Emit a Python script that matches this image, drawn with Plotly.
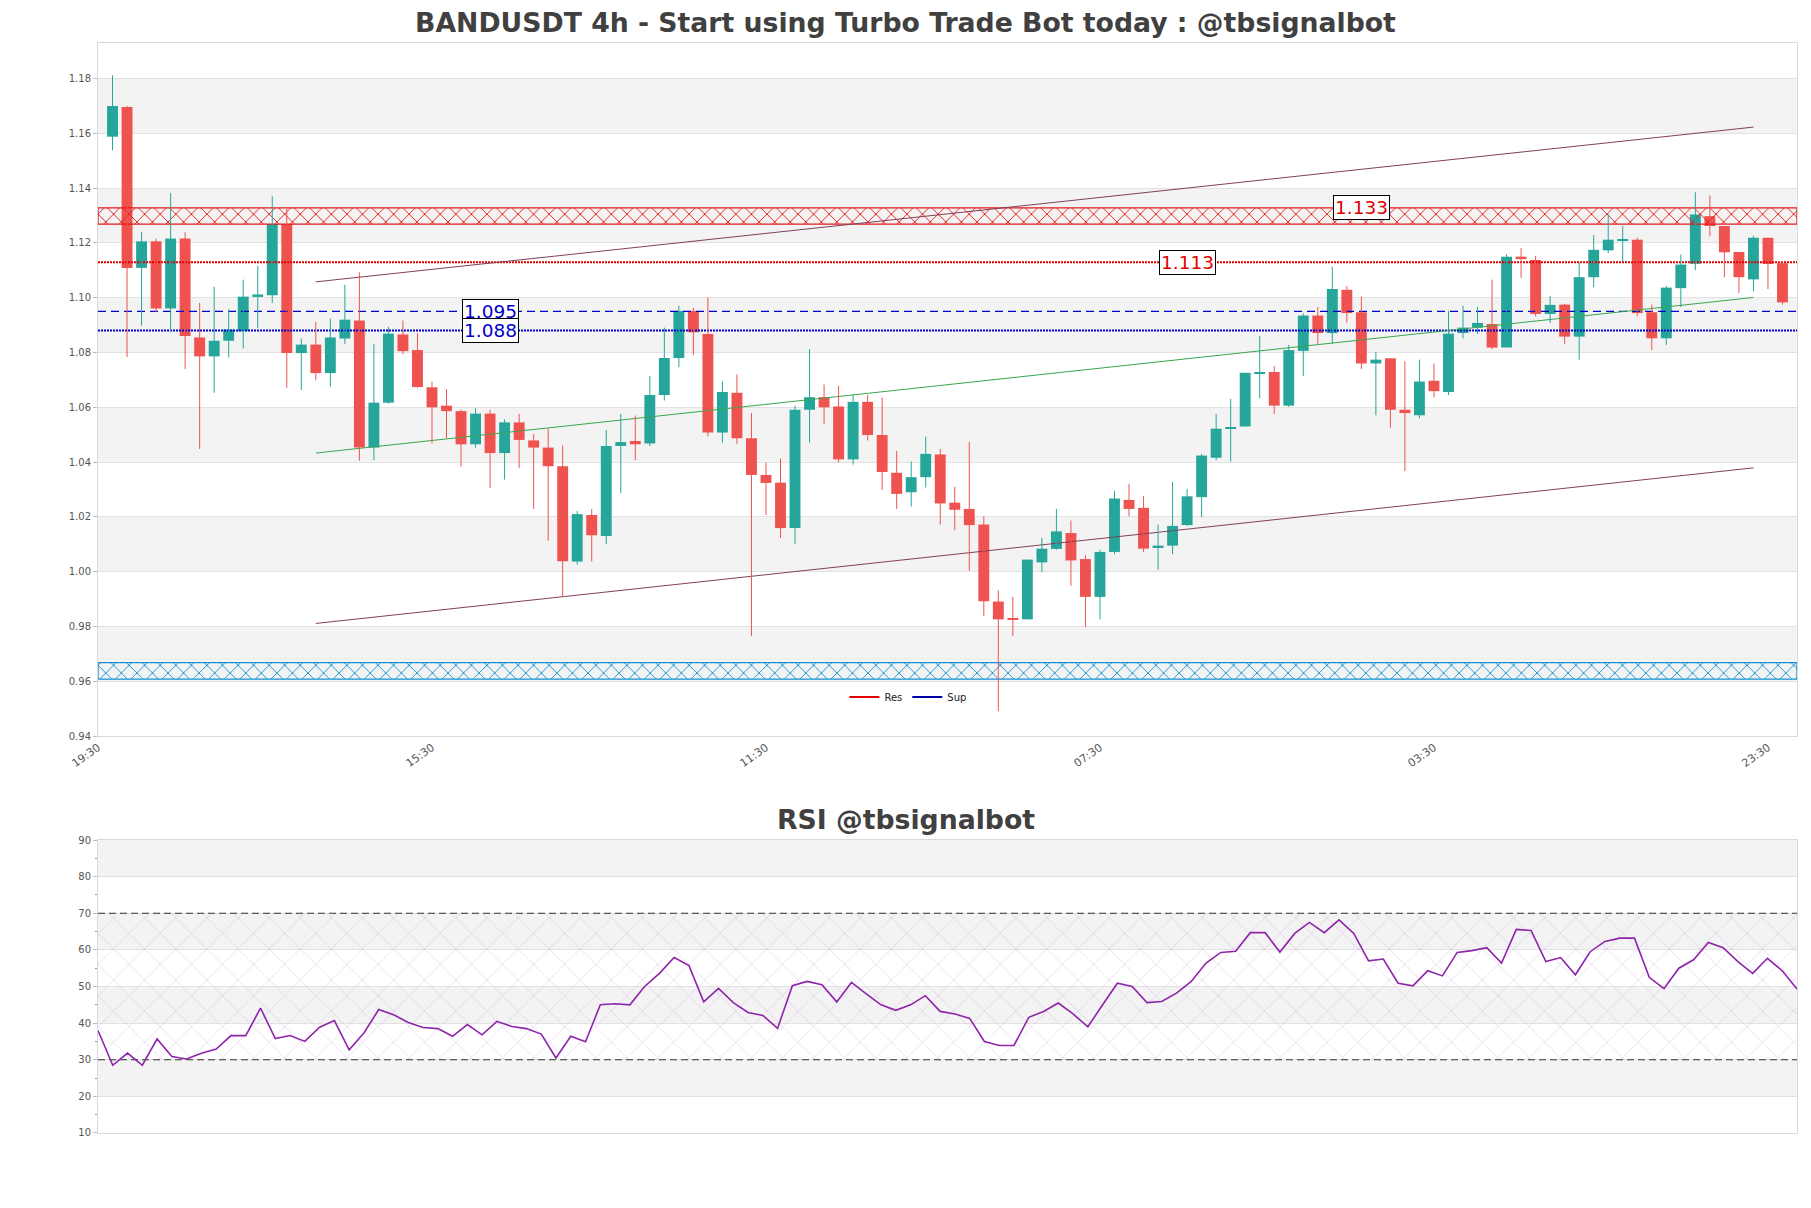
import plotly.graph_objects as go

# 4h candles, oldest first
opens = [
    1.1588, 1.1696, 1.1109, 1.1206, 1.0961, 1.1216, 1.0855, 1.0786, 1.0843, 1.0878,
    1.1003, 1.1009, 1.1269, 1.0798, 1.0829, 1.0725, 1.0851, 1.0917, 1.0453, 1.0617,
    1.0866, 1.0809, 1.0673, 1.0606, 1.0586, 1.0465, 1.0577, 1.0433, 1.0545, 1.0479,
    1.0453, 1.0385, 1.0037, 1.0207, 1.0130, 1.0459, 1.0477, 1.0468, 1.0645, 1.0780,
    1.0952, 1.0868, 1.0508, 1.0653, 1.0487, 1.0353, 1.0325, 1.0159, 1.0591, 1.0637,
    1.0603, 1.0410, 1.0620, 1.0499, 1.0361, 1.0290, 1.0345, 1.0428, 1.0252, 1.0229,
    1.0172, 0.9891, 0.9831, 0.9826, 1.0034, 1.0083, 1.0141, 1.0046, 0.9908, 1.0072,
    1.0262, 1.0233, 1.0090, 1.0095, 1.0170, 1.0272, 1.0416, 1.0522, 1.0530, 1.0723,
    1.0729, 1.0606, 1.0806, 1.0935, 1.0871, 1.1029, 1.0947, 1.0760, 1.0779, 1.0591,
    1.0571, 1.0697, 1.0656, 1.0871, 1.0891, 1.0904, 1.0818, 1.1150, 1.1138, 1.0941,
    1.0975, 1.0858, 1.1075, 1.1173, 1.1209, 1.1212, 1.0947, 1.0852, 1.1035, 1.1124,
    1.1298, 1.1262, 1.1167, 1.1067, 1.1219, 1.1126,
]
highs = [
    1.1812, 1.1700, 1.1239, 1.1216, 1.1382, 1.1239, 1.0981, 1.1040, 1.0958, 1.1066,
    1.1116, 1.1370, 1.1324, 1.0851, 1.0912, 1.0924, 1.1047, 1.1093, 1.0832, 1.0894,
    1.0917, 1.0871, 1.0694, 1.0666, 1.0591, 1.0597, 1.0591, 1.0556, 1.0576, 1.0502,
    1.0522, 1.0461, 1.0222, 1.0229, 1.0517, 1.0576, 1.0570, 1.0714, 1.0891, 1.0971,
    1.0963, 1.1001, 1.0694, 1.0720, 1.0579, 1.0398, 1.0413, 1.0606, 1.0812, 1.0683,
    1.0679, 1.0645, 1.0645, 1.0636, 1.0441, 1.0402, 1.0493, 1.0448, 1.0310, 1.0474,
    1.0202, 0.9931, 0.9908, 1.0044, 1.0123, 1.0229, 1.0187, 1.0060, 1.0080, 1.0295,
    1.0321, 1.0276, 1.0172, 1.0328, 1.0302, 1.0430, 1.0576, 1.0631, 1.0726, 1.0860,
    1.0751, 1.0828, 1.0943, 1.0966, 1.1113, 1.1043, 1.1004, 1.0802, 1.0779, 1.0768,
    1.0774, 1.0760, 1.0952, 1.0971, 1.0967, 1.1066, 1.1159, 1.1181, 1.1153, 1.1006,
    1.0978, 1.1127, 1.1229, 1.1305, 1.1262, 1.1219, 1.0975, 1.1044, 1.1158, 1.1385,
    1.1373, 1.1262, 1.1167, 1.1227, 1.1219, 1.1126,
]
lows = [
    1.1539, 1.0783, 1.0898, 1.0947, 1.0874, 1.0740, 1.0448, 1.0653, 1.0782, 1.0815,
    1.0889, 1.0981, 1.0671, 1.0663, 1.0699, 1.0676, 1.0831, 1.0405, 1.0407, 1.0613,
    1.0794, 1.0671, 1.0468, 1.0487, 1.0384, 1.0453, 1.0305, 1.0336, 1.0379, 1.0229,
    1.0113, 0.9908, 1.0026, 1.0037, 1.0100, 1.0287, 1.0407, 1.0459, 1.0625, 1.0746,
    1.0791, 1.0494, 1.0471, 1.0467, 0.9765, 1.0207, 1.0123, 1.0100, 1.0471, 1.0539,
    1.0399, 1.0391, 1.0479, 1.0299, 1.0229, 1.0238, 1.0307, 1.0172, 1.0152, 1.0003,
    0.9838, 0.9491, 0.9765, 0.9826, 0.9998, 1.0080, 0.9949, 0.9798, 0.9826, 1.0064,
    1.0202, 1.0072, 1.0007, 1.0064, 1.0167, 1.0199, 1.0407, 1.0402, 1.0530, 1.0633,
    1.0576, 1.0602, 1.0714, 1.0832, 1.0832, 1.0909, 1.0740, 1.0571, 1.0525, 1.0367,
    1.0560, 1.0636, 1.0645, 1.0852, 1.0868, 1.0812, 1.0818, 1.1073, 1.0932, 1.0908,
    1.0831, 1.0774, 1.1038, 1.1163, 1.1132, 1.0932, 1.0809, 1.0828, 1.0966, 1.1101,
    1.1224, 1.1075, 1.1017, 1.1024, 1.1032, 1.0975,
]
closes = [
    1.1700, 1.1109, 1.1206, 1.0961, 1.1216, 1.0860, 1.0786, 1.0843, 1.0884, 1.1004,
    1.1012, 1.1269, 1.0798, 1.0829, 1.0725, 1.0855, 1.0920, 1.0453, 1.0617, 1.0869,
    1.0805, 1.0674, 1.0600, 1.0586, 1.0465, 1.0577, 1.0433, 1.0545, 1.0481, 1.0453,
    1.0385, 1.0038, 1.0210, 1.0133, 1.0459, 1.0473, 1.0465, 1.0645, 1.0780, 1.0952,
    1.0874, 1.0508, 1.0656, 1.0487, 1.0353, 1.0324, 1.0159, 1.0591, 1.0637, 1.0600,
    1.0410, 1.0620, 1.0499, 1.0364, 1.0284, 1.0345, 1.0430, 1.0249, 1.0226, 1.0170,
    0.9892, 0.9826, 0.9826, 1.0044, 1.0084, 1.0147, 1.0041, 0.9908, 1.0072, 1.0267,
    1.0229, 1.0084, 1.0095, 1.0167, 1.0275, 1.0424, 1.0522, 1.0528, 1.0726, 1.0729,
    1.0606, 1.0809, 1.0935, 1.0871, 1.1032, 1.0944, 1.0760, 1.0774, 1.0591, 1.0579,
    1.0694, 1.0659, 1.0869, 1.0891, 1.0908, 1.0818, 1.1150, 1.1141, 1.0941, 1.0974,
    1.0858, 1.1075, 1.1175, 1.1212, 1.1212, 1.0944, 1.0852, 1.1037, 1.1121, 1.1304,
    1.1262, 1.1166, 1.1075, 1.1219, 1.1123, 1.0983,
]

rsi = [
    38.0, 28.5, 31.8, 28.5, 35.7, 30.9, 30.2, 31.8, 32.9, 36.6,
    36.6, 44.1, 35.8, 36.6, 35.0, 38.9, 40.7, 32.7, 37.3, 43.7,
    42.3, 40.2, 38.8, 38.5, 36.4, 39.6, 36.8, 40.5, 39.1, 38.5,
    37.0, 30.5, 36.4, 34.9, 45.0, 45.3, 45.0, 50.0, 53.6, 57.9,
    55.7, 45.8, 49.5, 45.6, 42.9, 42.1, 38.6, 50.2, 51.4, 50.5,
    45.8, 51.1, 48.0, 45.0, 43.5, 45.0, 47.5, 43.2, 42.5, 41.3,
    35.0, 33.9, 33.9, 41.6, 43.2, 45.5, 42.5, 39.0, 45.0, 50.9,
    50.0, 45.6, 45.9, 48.2, 51.4, 56.4, 59.3, 59.6, 64.7, 64.7,
    59.4, 64.5, 67.5, 64.7, 68.2, 64.5, 57.0, 57.5, 50.9, 50.2,
    54.3, 52.9, 59.3, 59.8, 60.6, 56.4, 65.6, 65.3, 56.8, 57.9,
    53.2, 59.5, 62.3, 63.2, 63.2, 52.5, 49.4, 55.0, 57.3, 62.0,
    60.6, 56.8, 53.6, 57.7, 54.3, 49.3,
]

x_tick_pos = [-1, 22, 45, 68, 91, 114]
x_tick_text = ["19:30", "15:30", "11:30", "07:30", "03:30", "23:30"]

res_zone = [1.1269, 1.1328]
sup_zone = [0.9608, 0.9668]
res_level = 1.113
sup_dash_level = 1.095
sup_dot_level = 1.088

trend_x = [14, 113]
channel_upper = [1.1058, 1.1623]
channel_mid = [1.0433, 1.1001]
channel_lower = [0.9811, 1.0379]

UP = "#26a69a"
DOWN = "#ef5350"
FONT = "DejaVu Sans"
CLEAR = "rgba(0,0,0,0)"
X0, X1 = -1, 116

fig = go.Figure()

# zones (hatched bands)
for zone, col in ((res_zone, "#e41a1c"), (sup_zone, "#1590d8")):
    fig.add_trace(go.Scatter(
        x=[X0, X1, X1, X0, X0], y=[zone[0], zone[0], zone[1], zone[1], zone[0]],
        fill="toself", fillcolor=CLEAR, mode="lines", line=dict(color=col, width=1.3),
        fillpattern=dict(shape="x", fgcolor=col, bgcolor=CLEAR, fillmode="replace",
                         size=11, solidity=0.16),
        showlegend=False, hoverinfo="skip", xaxis="x", yaxis="y"))

# horizontal levels
fig.add_trace(go.Scatter(x=[X0, X1], y=[res_level] * 2, mode="lines",
                         line=dict(color="#e00000", width=2, dash="2px,1px"),
                         showlegend=False, hoverinfo="skip"))
fig.add_trace(go.Scatter(x=[X0, X1], y=[sup_dash_level] * 2, mode="lines",
                         line=dict(color="#0000cc", width=1.2, dash="8px,5px"),
                         showlegend=False, hoverinfo="skip"))
fig.add_trace(go.Scatter(x=[X0, X1], y=[sup_dot_level] * 2, mode="lines",
                         line=dict(color="#0000cc", width=2, dash="2px,1px"),
                         showlegend=False, hoverinfo="skip"))

# channel
for ys, col in ((channel_upper, "#804058"), (channel_lower, "#804058"), (channel_mid, "#3aa64c")):
    fig.add_trace(go.Scatter(x=trend_x, y=ys, mode="lines", line=dict(color=col, width=1),
                             showlegend=False, hoverinfo="skip"))

# candles: wicks as lines, bodies as bars
idx = list(range(len(opens)))
for col, pick in ((UP, lambda i: closes[i] >= opens[i]), (DOWN, lambda i: closes[i] < opens[i])):
    sel = [i for i in idx if pick(i)]
    wx, wy = [], []
    for i in sel:
        wx += [i, i, None]
        wy += [lows[i], highs[i], None]
    fig.add_trace(go.Scatter(x=wx, y=wy, mode="lines", line=dict(color=col, width=1),
                             showlegend=False, hoverinfo="skip"))
    fig.add_trace(go.Bar(
        x=sel, base=[min(opens[i], closes[i]) for i in sel],
        y=[max(abs(closes[i] - opens[i]), 0.0004) for i in sel],
        width=0.75, marker=dict(color=col, line=dict(width=0)),
        showlegend=False, hoverinfo="skip"))

# legend entries
fig.add_trace(go.Scatter(x=[None], y=[None], mode="lines", name="Res",
                         line=dict(color="#e00000", width=2)))
fig.add_trace(go.Scatter(x=[None], y=[None], mode="lines", name="Sup",
                         line=dict(color="#0000aa", width=2)))

# RSI panel
fig.add_trace(go.Scatter(
    x=[0, 115, 115, 0, 0], y=[30, 30, 70, 70, 30], fill="toself", fillcolor=CLEAR, mode="none",
    fillpattern=dict(shape="x", fgcolor="rgba(185,130,215,0.55)", bgcolor=CLEAR,
                     fillmode="replace", size=22, solidity=0.04),
    showlegend=False, hoverinfo="skip", xaxis="x2", yaxis="y2"))
for lvl in (30, 70):
    fig.add_trace(go.Scatter(x=[0, 115], y=[lvl, lvl], mode="lines",
                             line=dict(color="#333333", width=1.2, dash="7px,4px"),
                             showlegend=False, hoverinfo="skip", xaxis="x2", yaxis="y2"))
fig.add_trace(go.Scatter(x=list(range(len(rsi))), y=rsi, mode="lines",
                         line=dict(color="#8e24aa", width=1.6),
                         showlegend=False, hoverinfo="skip", xaxis="x2", yaxis="y2"))

# alternating background bands
shapes = []
for lo in (0.96, 1.00, 1.04, 1.08, 1.12, 1.16):
    shapes.append(dict(type="rect", xref="x domain", yref="y", x0=0, x1=1, y0=lo, y1=lo + 0.02,
                       fillcolor="#f3f3f3", line=dict(width=0), layer="below"))
for lo in (20, 40, 60, 80):
    shapes.append(dict(type="rect", xref="x2 domain", yref="y2", x0=0, x1=1, y0=lo, y1=lo + 10,
                       fillcolor="#f3f3f3", line=dict(width=0), layer="below"))

annotations = [
    dict(text="RSI @tbsignalbot", xref="paper", yref="paper", x=0.4753, y=0.2872,
         xanchor="center", yanchor="middle", showarrow=False,
         font=dict(family=FONT, size=26.7, color="#404040", weight="bold")),
]
for txt, xi, yv, col in (("1.133", 86, 1.133, "#e00000"), ("1.113", 74, 1.113, "#e00000"),
                         ("1.095", 26, 1.095, "#0000cc"), ("1.088", 26, 1.088, "#0000cc")):
    annotations.append(dict(text=txt, x=xi, y=yv, xref="x", yref="y", showarrow=False,
                            font=dict(family=FONT, size=18.5, color=col), bgcolor="white",
                            bordercolor="black", borderwidth=1, borderpad=1))

axis_common = dict(showline=True, mirror=True, linecolor="#d9d9d9", linewidth=1, zeroline=False)

# the page body adds an 8px margin, so the figure is sized to sit inside it
fig.update_layout(
    width=1795, height=1192,
    margin=dict(l=90, r=6, t=35, b=67),
    paper_bgcolor="white", plot_bgcolor="white",
    barmode="overlay",
    font=dict(family=FONT, color="#444444", size=10),
    title=dict(text="BANDUSDT 4h - Start using Turbo Trade Bot today : @tbsignalbot",
               x=0.5, xanchor="center", y=1 - 15 / 1192, yanchor="middle",
               font=dict(family=FONT, size=26.7, color="#404040", weight="bold")),
    xaxis=dict(domain=[0, 1], anchor="y", range=[X0, X1], tickmode="array",
               tickvals=x_tick_pos, ticktext=x_tick_text, tickangle=-35,
               tickfont=dict(size=11, color="#555555"), showgrid=False, **axis_common),
    yaxis=dict(domain=[0.3642, 1], anchor="x", range=[0.94, 1.193], tick0=0.94, dtick=0.02,
               tickformat=".2f", showgrid=True, gridcolor="#e2e2e2", ticks="outside",
               ticklen=4, tickcolor="#bbbbbb", tickfont=dict(size=10, color="#555555"),
               **axis_common),
    xaxis2=dict(domain=[0, 1], anchor="y2", range=[0, 115], showticklabels=False,
                showgrid=False, **axis_common),
    yaxis2=dict(domain=[0, 0.2688], anchor="x2", range=[10, 90], tick0=10, dtick=10,
                showgrid=True, gridcolor="#e2e2e2", ticks="outside", ticklen=4,
                tickcolor="#bbbbbb", tickfont=dict(size=10, color="#555555"),
                minor=dict(dtick=5, ticks="outside", ticklen=2, tickcolor="#999999", showgrid=False),
                **axis_common),
    legend=dict(orientation="h", x=0.4767, xanchor="center", y=0.40, yanchor="middle",
                font=dict(size=10, color="#222222"), bgcolor=CLEAR, itemwidth=30),
    shapes=shapes,
    annotations=annotations,
)

fig.write_html("out.html")
